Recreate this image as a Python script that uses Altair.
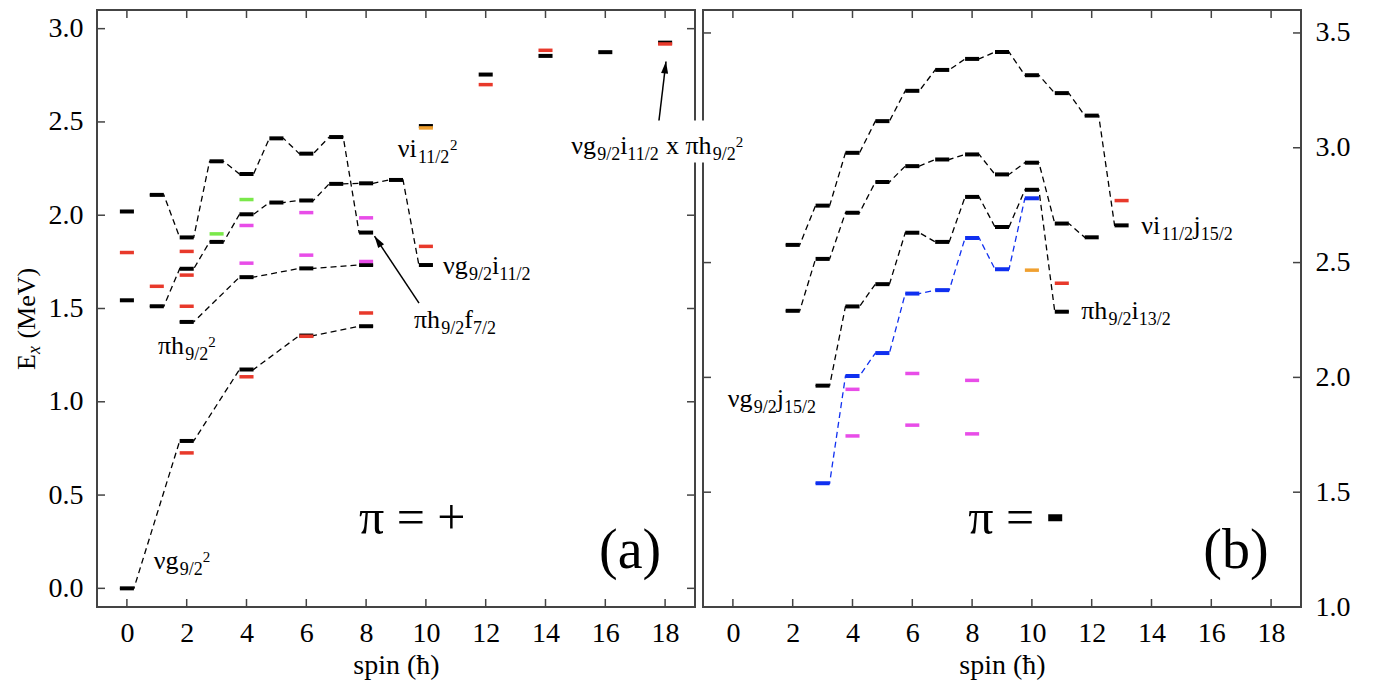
import math
import altair as alt
import pandas as pd

# ---------------- data ----------------
# panel (a): parity +
a_seq1_spin = [0, 2, 4, 6, 8]
a_seq1_E = [0.000, 0.790, 1.173, 1.355, 1.405]
a_seq2_spin = [2, 4, 6, 8]
a_seq2_E = [1.428, 1.668, 1.715, 1.733]
a_seq3_spin = [1, 2, 3, 4, 5, 6, 7, 8, 9, 10]
a_seq3_E = [1.512, 1.713, 1.857, 2.005, 2.068, 2.079, 2.168, 2.171, 2.189, 1.733]
a_seq4_spin = [1, 2, 3, 4, 5, 6, 7, 8]
a_seq4_E = [2.109, 1.881, 2.289, 2.221, 2.412, 2.330, 2.419, 1.907]
a_black_spin = [0, 0, 10, 12, 14, 16, 18]
a_black_E = [2.020, 1.544, 2.478, 2.754, 2.854, 2.874, 2.925]
a_red_spin = [0, 1, 2, 2, 2, 2, 4, 6, 8, 10, 12, 14, 18]
a_red_E = [1.800, 1.619, 1.806, 1.679, 1.512, 0.726, 1.134, 1.351, 1.476, 1.833, 2.700, 2.884, 2.918]
a_magenta_spin = [4, 4, 6, 6, 8, 8]
a_magenta_E = [1.945, 1.743, 2.014, 1.786, 1.986, 1.752]
a_green_spin = [3, 4]
a_green_E = [1.900, 2.084]
a_orange_spin = [10]
a_orange_E = [2.468]

# panel (b): parity -
b_seq1_spin = [2, 3, 4, 5, 6, 7, 8, 9, 10, 11, 12, 13]
b_seq1_E = [2.577, 2.748, 2.978, 3.116, 3.248, 3.339, 3.387, 3.417, 3.316, 3.238, 3.140, 2.662]
b_seq2_spin = [2, 3, 4, 5, 6, 7, 8, 9, 10, 11, 12]
b_seq2_E = [2.290, 2.516, 2.717, 2.851, 2.920, 2.949, 2.971, 2.884, 2.935, 2.670, 2.610]
b_seq3_spin = [3, 4, 5, 6, 7, 8, 9, 10, 11]
b_seq3_E = [1.964, 2.309, 2.406, 2.630, 2.590, 2.786, 2.655, 2.817, 2.286]
b_blue_spin = [3, 4, 5, 6, 7, 8, 9, 10]
b_blue_E = [1.539, 2.006, 2.106, 2.365, 2.380, 2.607, 2.471, 2.780]
b_red_spin = [11, 13]
b_red_E = [2.410, 2.770]
b_orange_spin = [10]
b_orange_E = [2.467]
b_magenta_spin = [4, 4, 6, 6, 8, 8]
b_magenta_E = [1.948, 1.745, 2.017, 1.792, 1.987, 1.754]

x_ticks = [0, 2, 4, 6, 8, 10, 12, 14, 16, 18]
a_y_ticks = [0.0, 0.5, 1.0, 1.5, 2.0, 2.5, 3.0]
b_y_ticks = [1.0, 1.5, 2.0, 2.5, 3.0, 3.5]

# ---------------- styling ----------------
SERIF = "Liberation Serif"
W, H = 598, 597
X_DOM = [-1, 19]
A_DOM = [-0.1, 3.1]
B_DOM = [1.0, 3.6]
HW = 0.235
BLACK, RED, MAGENTA, GREEN, ORANGE, BLUE = "#000000", "#e8392b", "#e84de8", "#7ae84a", "#f0a030", "#1030f0"
FRAME = "#444444"

EM = {"ν": 0.5, "π": 0.55, "g": 0.5, "h": 0.5, "i": 0.278, "j": 0.278, "f": 0.333,
      "x": 0.5, " ": 0.25, "/": 0.278, "E": 0.611, "(": 0.333, ")": 0.333,
      "M": 0.889, "e": 0.444, "V": 0.722}
SEG = {"m": (26, 0), "s": (18, 6), "p": (15, -7)}


def tw(s, fs):
    return sum(EM.get(c, 0.5) for c in s) * fs


def split_lead(text, fs):
    """Vega trims text, so leading blanks become an offset instead."""
    body = text.lstrip(" ")
    return body, tw(text[: len(text) - len(body)], fs)


X_AXIS = alt.Axis(values=x_ticks, format="d", title="spin (ħ)",
                  titleFont=SERIF, titleFontSize=28, titleFontWeight="normal",
                  titleColor="black", titlePadding=4,
                  labelFont=SERIF, labelFontSize=28, labelColor="black",
                  labelPadding=12, labelOverlap=False, labelFlush=False,
                  ticks=False, domain=False, grid=False)


def enc_x(field):
    return alt.X(field, type="quantitative",
                 scale=alt.Scale(domain=X_DOM, nice=False, zero=False), axis=X_AXIS)


def y_maker(dom, orient, ticks):
    ax = alt.Axis(orient=orient, values=ticks, format=".1f", title=None,
                  labelFont=SERIF, labelFontSize=28, labelColor="black",
                  labelPadding=14, labelOverlap=False, labelFlush=False,
                  ticks=False, domain=False, grid=False)

    def make(field):
        return alt.Y(field, type="quantitative",
                     scale=alt.Scale(domain=dom, nice=False, zero=False), axis=ax)
    return make


def seq_df(seqs):
    rows = []
    for lid, (spins, Es, col) in enumerate(seqs):
        k = 0
        for s, e in zip(spins, Es):
            rows.append({"lid": lid, "x": s - HW, "E": e, "ord": k, "c": col}); k += 1
            rows.append({"lid": lid, "x": s + HW, "E": e, "ord": k, "c": col}); k += 1
    return pd.DataFrame(rows)


def bars_df(sets):
    rows = []
    for spins, Es, col in sets:
        for s, e in zip(spins, Es):
            rows.append({"x0": s - HW, "x1": s + HW, "E": e, "c": col})
    return pd.DataFrame(rows)


def panel(dom, orient, yticks, seqs, black_sets, color_sets, labels, extras):
    YF = y_maker(dom, orient, yticks)
    Y = YF("E")
    kx = W / (X_DOM[1] - X_DOM[0])
    ky = H / (dom[1] - dom[0])
    tx = pd.DataFrame({"x": x_ticks})
    ty = pd.DataFrame({"E": yticks})
    tick = dict(color=FRAME, strokeWidth=1.5)
    layers = [
        alt.Chart(tx).mark_rule(**tick).encode(x=enc_x("x"), y=alt.value(H), y2=alt.value(H - 8)),
        alt.Chart(tx).mark_rule(**tick).encode(x=enc_x("x"), y=alt.value(0), y2=alt.value(8)),
        alt.Chart(ty).mark_rule(**tick).encode(y=Y, x=alt.value(0), x2=alt.value(8)),
        alt.Chart(ty).mark_rule(**tick).encode(y=Y, x=alt.value(W - 8), x2=alt.value(W)),
        alt.Chart(seq_df(seqs)).mark_line(strokeDash=[6, 4], strokeWidth=1.3).encode(
            x=enc_x("x"), y=Y, detail="lid:N", order="ord:Q",
            color=alt.Color("c:N", scale=None)),
        alt.Chart(bars_df(black_sets)).mark_rule(strokeWidth=4, strokeCap="butt").encode(
            x=enc_x("x0"), x2="x1:Q", y=Y, color=alt.Color("c:N", scale=None)),
        alt.Chart(bars_df(color_sets)).mark_rule(strokeWidth=3.5, strokeCap="butt").encode(
            x=enc_x("x0"), x2="x1:Q", y=Y, color=alt.Color("c:N", scale=None)),
    ]
    for ex in extras:
        layers.append(ex(YF, kx, ky))
    for ax, ae, segs in labels:
        cum = 0.0
        one = pd.DataFrame({"x": [ax], "E": [ae]})
        for text, kind in segs:
            if kind in SEG:
                fs, dy = SEG[kind]
            else:
                fs, dy = kind, 0
            body, lead = split_lead(text, fs)
            cum += lead
            layers.append(alt.Chart(one).mark_text(
                text=body, font=SERIF, fontSize=fs, align="left", baseline="alphabetic",
                dx=cum, dy=dy, color="black").encode(x=enc_x("x"), y=Y))
            cum += tw(body, fs)
    return alt.layer(*layers).properties(width=W, height=H)


def arrow(x0, e0, x1, e1):
    def build(YF, kx, ky):
        px, py = (x1 - x0) * kx, (e1 - e0) * ky
        ln = math.hypot(px, py)
        ang = math.degrees(math.atan2(px, py)) % 360
        r = math.sqrt(200) / 2
        cx, ce = x1 - px / ln * r / kx, e1 - py / ln * r / ky
        d = pd.DataFrame({"x": [x0], "E": [e0], "x2": [x1], "E2": [e1], "hx": [cx], "hE": [ce]})
        line = alt.Chart(d).mark_rule(color="black", strokeWidth=1.5).encode(
            x=enc_x("x"), y=YF("E"), x2="x2:Q", y2="E2:Q")
        head = alt.Chart(d).mark_point(shape="M0,-1L0.5,0.7L-0.5,0.7Z", filled=True, size=200,
                                       angle=ang, color="black", opacity=1, strokeWidth=0).encode(
            x=enc_x("hx"), y=YF("hE"))
        return alt.layer(line, head)
    return build


def etitle(YF, kx, ky):
    layers = []
    cum = 0.0
    one = pd.DataFrame({"k": [0]})
    for text, fs, dy, style in [("E", 26, 0, "normal"), ("x", 18, 5, "italic"),
                                (" (MeV)", 26, 0, "normal")]:
        body, lead = split_lead(text, fs)
        cum += lead
        layers.append(alt.Chart(one).mark_text(
            text=body, font=SERIF, fontSize=fs, fontStyle=style, angle=270, align="left",
            baseline="alphabetic", dx=cum, dy=dy, color="black").encode(
            x=alt.value(-62), y=alt.value(360)))
        cum += tw(body, fs)
    return alt.layer(*layers)


def minus_bar(ax, ae):
    def build(YF, kx, ky):
        x0 = ax + 80 / kx
        d = pd.DataFrame({"x": [x0], "x1": [x0 + 14 / kx], "E": [ae + 16 / ky]})
        return alt.Chart(d).mark_rule(color="black", strokeWidth=7, strokeCap="butt").encode(
            x=enc_x("x"), x2="x1:Q", y=YF("E"))
    return build


def white_box(ax, ae):
    def build(YF, kx, ky):
        d = pd.DataFrame({"x": [ax - 17 / kx], "x1": [ax + 204 / kx],
                          "E": [ae - 9 / ky], "E1": [ae + 33 / ky]})
        return alt.Chart(d).mark_rect(color="white").encode(
            x=enc_x("x"), x2="x1:Q", y=YF("E"), y2="E1:Q")
    return build


# labels: anchor (spin, energy) of baseline-left, segments
a_labels = [
    (0.90, 0.103, [("νg", "m"), ("9/2", "s"), ("2", "p")]),
    (1.04, 1.257, [("πh", "m"), ("9/2", "s"), ("2", "p")]),
    (9.06, 2.310, [("νi", "m"), ("11/2", "s"), ("2", "p")]),
    (10.57, 1.686, [("νg", "m"), ("9/2", "s"), ("i", "m"), ("11/2", "s")]),
    (9.60, 1.396, [("πh", "m"), ("9/2", "s"), ("f", "m"), ("7/2", "s")]),
    (7.76, 0.289, [("π = +", 50)]),
    (15.79, 0.107, [("(a)", 56)]),
]
b_combo = (-5.41, 2.975)
b_labels = [
    (13.66, 2.623, [("νi", "m"), ("11/2", "s"), ("j", "m"), ("15/2", "s")]),
    (11.65, 2.253, [("πh", "m"), ("9/2", "s"), ("i", "m"), ("13/2", "s")]),
    (-0.17, 1.870, [("νg", "m"), ("9/2", "s"), ("j", "m"), ("15/2", "s")]),
    (7.87, 1.319, [("π =", 50)]),
    (15.73, 1.170, [("(b)", 56)]),
    (b_combo[0], b_combo[1], [("νg", "m"), ("9/2", "s"), ("i", "m"), ("11/2", "s"),
                              (" x πh", "m"), ("9/2", "s"), ("2", "p")]),
]

panel_a = panel(
    A_DOM, "left", a_y_ticks,
    [(a_seq1_spin, a_seq1_E, BLACK), (a_seq2_spin, a_seq2_E, BLACK),
     (a_seq3_spin, a_seq3_E, BLACK), (a_seq4_spin, a_seq4_E, BLACK)],
    [(a_seq1_spin, a_seq1_E, BLACK), (a_seq2_spin, a_seq2_E, BLACK),
     (a_seq3_spin, a_seq3_E, BLACK), (a_seq4_spin, a_seq4_E, BLACK),
     (a_black_spin, a_black_E, BLACK)],
    [(a_red_spin, a_red_E, RED), (a_magenta_spin, a_magenta_E, MAGENTA),
     (a_green_spin, a_green_E, GREEN), (a_orange_spin, a_orange_E, ORANGE)],
    a_labels,
    [etitle, arrow(9.77, 1.529, 8.28, 1.888), arrow(17.79, 2.50, 18.03, 2.824)],
)

panel_b = panel(
    B_DOM, "right", b_y_ticks,
    [(b_seq1_spin, b_seq1_E, BLACK), (b_seq2_spin, b_seq2_E, BLACK),
     (b_seq3_spin, b_seq3_E, BLACK), (b_blue_spin, b_blue_E, BLUE)],
    [(b_seq1_spin, b_seq1_E, BLACK), (b_seq2_spin, b_seq2_E, BLACK),
     (b_seq3_spin, b_seq3_E, BLACK), (b_blue_spin, b_blue_E, BLUE)],
    [(b_red_spin, b_red_E, RED), (b_orange_spin, b_orange_E, ORANGE),
     (b_magenta_spin, b_magenta_E, MAGENTA)],
    b_labels,
    [minus_bar(7.87, 1.319), white_box(*b_combo)],
)

chart = alt.hconcat(panel_a, panel_b, spacing=8, bounds="flush").properties(
    padding={"left": 5, "top": 0, "right": 5, "bottom": 5},
    background="white",
).configure_view(stroke=FRAME, strokeWidth=2).configure_axis(
    labelFont=SERIF, titleFont=SERIF, labelFontSize=28, titleFontSize=28,
    labelColor="black", titleColor="black", titleFontWeight="normal",
)

chart.save("out.html", embed_options={"renderer": "svg", "actions": False})
